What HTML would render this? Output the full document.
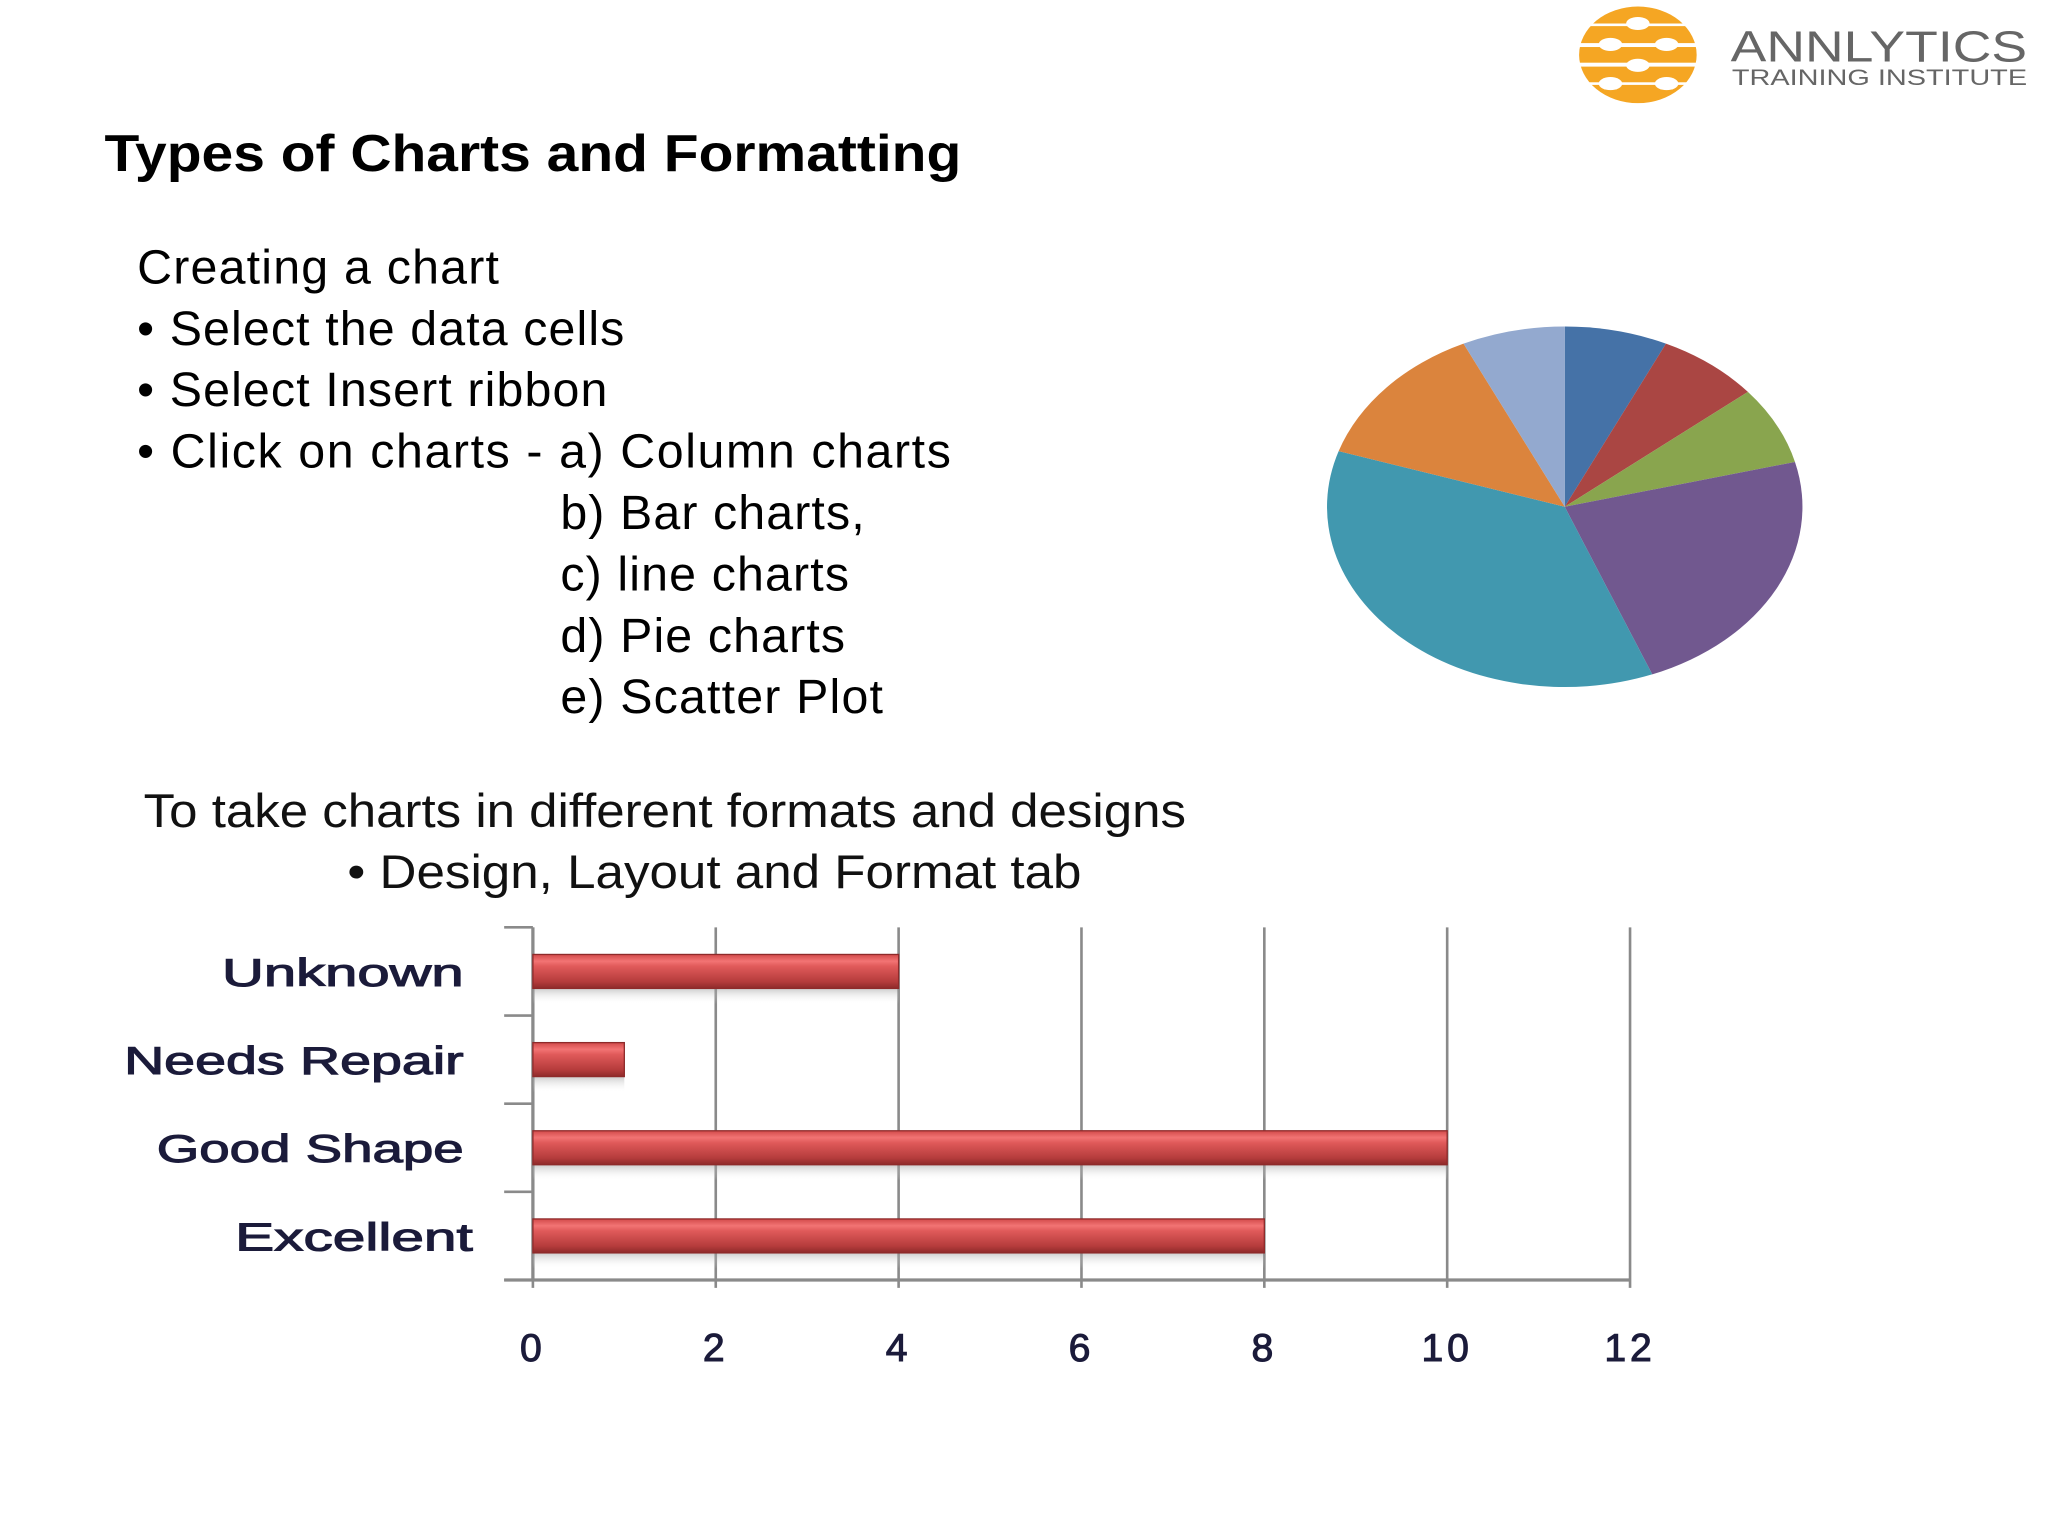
<!DOCTYPE html>
<html><head><meta charset="utf-8"><style>
html,body{margin:0;padding:0;background:#fff;width:2048px;height:1536px;overflow:hidden}
svg{display:block}
</style></head><body>
<svg id="slide" width="2048" height="1536" viewBox="0 0 1568 1176" xmlns="http://www.w3.org/2000/svg">
<defs>
<linearGradient id="barGrad" x1="0" y1="0" x2="0" y2="1">
<stop offset="0" stop-color="#d24a4a"/><stop offset="0.2" stop-color="#f27474"/><stop offset="0.35" stop-color="#e05a5a"/><stop offset="0.8" stop-color="#b53c3c"/><stop offset="1" stop-color="#8e2a2a"/>
</linearGradient>
<linearGradient id="shadowGrad" x1="0" y1="0" x2="0" y2="1">
<stop offset="0" stop-color="#999" stop-opacity="0.5"/><stop offset="1" stop-color="#fff" stop-opacity="0"/>
</linearGradient>
</defs>

<g>
<ellipse cx="1254" cy="42" rx="45" ry="37" fill="#f5a623"/>
<g fill="#fff">
<rect x="1209" y="18" width="90" height="2"/>
<rect x="1209" y="33" width="90" height="3"/>
<rect x="1209" y="48" width="90" height="3"/>
<rect x="1209" y="63" width="90" height="2"/>
<ellipse cx="1233" cy="34" rx="9" ry="5"/><ellipse cx="1276" cy="34" rx="9" ry="5"/>
<ellipse cx="1254" cy="18" rx="9" ry="5"/><ellipse cx="1254" cy="50" rx="9" ry="5"/>
<ellipse cx="1233" cy="64" rx="9" ry="5"/><ellipse cx="1276" cy="64" rx="9" ry="5"/>
</g>
<text x="1325" y="47" font-family="Liberation Sans, sans-serif" font-size="33" fill="#666" textLength="227" lengthAdjust="spacingAndGlyphs">ANNLYTICS</text>
<text x="1326" y="65" font-family="Liberation Sans, sans-serif" font-size="17" fill="#666" textLength="226" lengthAdjust="spacingAndGlyphs">TRAINING INSTITUTE</text>
</g>

<text x="80" y="131" font-family="Liberation Sans, sans-serif" font-weight="bold" font-size="40" fill="#000" textLength="656" lengthAdjust="spacingAndGlyphs">Types of Charts and Formatting</text>

<g font-family="Liberation Sans, sans-serif" font-size="37" fill="#000" lengthAdjust="spacingAndGlyphs">
<text x="105" y="217" textLength="277">Creating a chart</text>
<text x="105" y="264" textLength="373">• Select the data cells</text>
<text x="105" y="311" textLength="360">• Select Insert ribbon</text>
<text x="105" y="358" textLength="623">• Click on charts -  a) Column charts</text>
<text x="429" y="405" textLength="233">b) Bar charts,</text>
<text x="429" y="452" textLength="221">c) line charts</text>
<text x="429" y="499" textLength="218">d) Pie charts</text>
<text x="429" y="546" textLength="247">e) Scatter Plot</text>
</g>

<g font-family="Liberation Sans, sans-serif" font-size="36" fill="#111">
<text x="110" y="633" textLength="798" lengthAdjust="spacingAndGlyphs">To take charts in different formats and designs</text>
<text x="266" y="680" textLength="562" lengthAdjust="spacingAndGlyphs">• Design, Layout and Format tab</text>
</g>

<g id="pie"></g>
<g id="bar"></g>
</svg>
<script>
const pieValues = [7, 7, 7, 23, 36, 13, 7];
const pieColors = ["#4572a7", "#aa4643", "#89a54e", "#71588f", "#4198af", "#db843d", "#93a9cf"];

const barCategories = ["Unknown", "Needs Repair", "Good Shape", "Excellent"];
const barValues = [4, 1, 10, 8];
const xTicks = [0, 2, 4, 6, 8, 10, 12];

const NS = "http://www.w3.org/2000/svg";
function mk(tag, attrs, parent){const e=document.createElementNS(NS,tag);for(const k in attrs)e.setAttribute(k,attrs[k]);parent.appendChild(e);return e;}

// Pie
const pieG = document.getElementById("pie");
const pcx=1198, pcy=388, prx=182, pry=138;
const pieTotal = pieValues.reduce((a,b)=>a+b,0);
let pieAcc = 0;
pieValues.forEach((v,i)=>{
  const a0 = pieAcc/pieTotal*2*Math.PI; pieAcc += v; const a1 = pieAcc/pieTotal*2*Math.PI;
  const x0=pcx+prx*Math.sin(a0), y0=pcy-pry*Math.cos(a0);
  const x1=pcx+prx*Math.sin(a1), y1=pcy-pry*Math.cos(a1);
  const large = (a1-a0)>Math.PI?1:0;
  const p = mk("path",{d:`M${pcx},${pcy} L${x0},${y0} A${prx},${pry} 0 ${large} 1 ${x1},${y1} Z`,fill:pieColors[i]},pieG);
  
  
});

// Bar chart
const barG = document.getElementById("bar");
const plotX0=408, unitPx=70, plotTop=710, plotBottom=980;
const xs = v => plotX0 + v*unitPx;
const bandH = (plotBottom-plotTop)/barCategories.length;
const xMax = xTicks[xTicks.length-1];
const labelLen = {"Unknown":185, "Needs Repair":260, "Good Shape":235, "Excellent":182};
xTicks.forEach(t=>{
  const g = mk("line",{x1:xs(t),y1:plotTop,x2:xs(t),y2:plotBottom+6,stroke:"#8a8a8a","stroke-width":2},barG);
  
  
  const lb = mk("text",{x:xs(t),y:1042,"text-anchor":"middle","font-family":"Liberation Sans, sans-serif","font-size":30,fill:"#1b1b3a",stroke:"#1b1b3a","stroke-width":0.8,"letter-spacing":3},barG);
  lb.textContent = t;
  
  
});
const ax = mk("line",{x1:386,y1:plotBottom,x2:xs(xMax),y2:plotBottom,stroke:"#8a8a8a","stroke-width":2.5},barG);


const ay = mk("line",{x1:plotX0,y1:plotTop,x2:plotX0,y2:plotBottom,stroke:"#8a8a8a","stroke-width":2.5},barG);


for(let i=0;i<=barCategories.length;i++){
  const tk = mk("line",{x1:386,y1:plotTop+i*bandH,x2:plotX0,y2:plotTop+i*bandH,stroke:"#8a8a8a","stroke-width":2},barG);
  
  
}
barCategories.forEach((c,i)=>{
  const yc = plotTop + bandH*(i+0.5);
  const sh = mk("rect",{x:plotX0,y:yc+13,width:xs(barValues[i])-plotX0,height:12,fill:"url(#shadowGrad)"},barG);
  
  
  const r = mk("rect",{x:plotX0,y:yc-13,width:xs(barValues[i])-plotX0,height:26,fill:"url(#barGrad)",stroke:"#8e2a2a","stroke-width":1},barG);
  
  
  const len = labelLen[c] || 200;
  const right = (c === "Excellent") ? 362 : 355;
  const t = mk("text",{x:right-len,y:yc+11,"font-family":"Liberation Sans, sans-serif","font-size":30,fill:"#1b1b3a",stroke:"#1b1b3a","stroke-width":0.8,textLength:len,lengthAdjust:"spacingAndGlyphs"},barG);
  t.textContent = c;
  
  
});
</script>
</body></html>
